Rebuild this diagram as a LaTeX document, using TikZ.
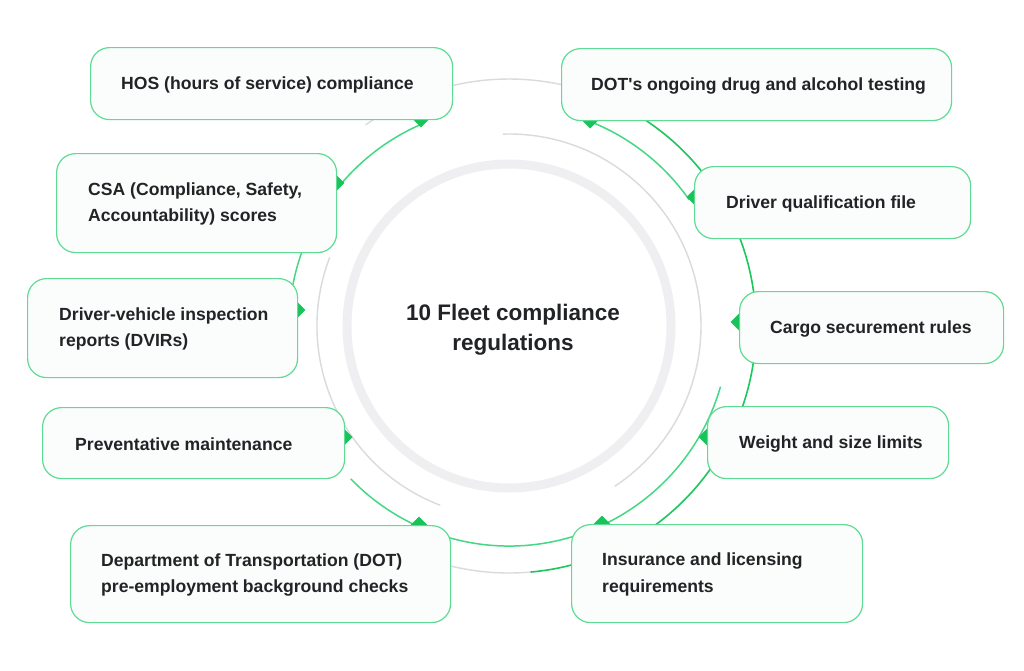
\documentclass[tikz,border=0pt]{standalone}
\usepackage{fontspec}
\setmainfont{Liberation Sans}
\definecolor{gline}{HTML}{45D884}
\definecolor{gstrong}{HTML}{1EC75E}
\definecolor{gdiam}{HTML}{17C45A}
\definecolor{gbox}{HTML}{5EDC94}
\definecolor{boxfill}{HTML}{FBFDFC}
\definecolor{thingray}{HTML}{DADADF}
\definecolor{ringgray}{HTML}{EFEFF2}
\definecolor{txt}{HTML}{222326}
\newcommand\ringarc[4]{\draw[#1] ([shift={(-#2:#4)}]c) arc[start angle=-#2, end angle=-#3, radius=#4];}
\begin{document}
\begin{tikzpicture}[x=1pt,y=-1pt,
  box/.style={draw=gbox, line width=1.2pt, fill=boxfill, rounded corners=19pt, anchor=north west, inner sep=0pt},
  lbl/.style={anchor=west, font=\bfseries\fontsize{17.6}{26.5}\selectfont, text=txt, align=left, inner sep=0pt},
  diam/.style={fill=gdiam, rotate=45, minimum size=12pt, inner sep=0pt},
  midg/.style={draw=gline, line width=1.5pt},
  outg/.style={draw=gstrong, line width=1.6pt},
  thin/.style={draw=thingray, line width=1.4pt}]
\useasboundingbox (0,0) rectangle (1024,670);
\fill[white] (0,0) rectangle (1024,670);
\coordinate (c) at (509,326);
% central ring
\draw[ringgray, line width=9pt] (c) circle[radius=162];
\node[font=\bfseries\fontsize{22.5}{30}\selectfont, text=txt, align=center] (title) at (513,330) {10 Fleet compliance\\regulations};
% thin gray arcs
\ringarc{thin}{91.8}{-56.6}{192}
\ringarc{thin}{159}{249}{192}
\ringarc{thin}{125.5}{56.7}{247}
\ringarc{thin}{-85}{-115}{247}
% green arcs
\ringarc{outg}{56.7}{-85}{247}
\ringarc{midg}{113.7}{172}{220}
\ringarc{midg}{68}{35}{220}
\ringarc{midg}{-16}{-136}{220}
% diamonds
\node[diam] (d1) at (421,119) {};
\node[diam] (d2) at (590,120) {};
\node[diam] (d3) at (336,183) {};
\node[diam] (d4) at (695,197) {};
\node[diam] (d5) at (297,310) {};
\node[diam] (d6) at (739,322) {};
\node[diam] (d7) at (344,437) {};
\node[diam] (d8) at (707,437) {};
\node[diam] (d9) at (419,525) {};
\node[diam] (d10) at (602,524) {};
% boxes
\node[box, minimum width=362pt, minimum height=72pt] (hos) at (90,47) {};
\node[box, minimum width=390pt, minimum height=72pt] (dot) at (561,48) {};
\node[box, minimum width=280pt, minimum height=99pt] (csa) at (56,153) {};
\node[box, minimum width=276pt, minimum height=72pt] (dqf) at (694,166) {};
\node[box, minimum width=270pt, minimum height=99pt] (dvir) at (27,278) {};
\node[box, minimum width=264pt, minimum height=72pt] (cargo) at (739,291) {};
\node[box, minimum width=302pt, minimum height=71pt] (prev) at (42,407) {};
\node[box, minimum width=241pt, minimum height=72pt] (weight) at (707,406) {};
\node[box, minimum width=380pt, minimum height=97pt] (dept) at (70,525) {};
\node[box, minimum width=291pt, minimum height=98pt] (ins) at (571,524) {};
% labels
\node[lbl] (thos) at ([xshift=31pt,yshift=-1pt]hos.west) {HOS (hours of service) compliance};
\node[lbl] (tdot) at ([xshift=30pt,yshift=-1pt]dot.west) {DOT\textquotesingle s ongoing drug and alcohol testing};
\node[lbl] (tcsa) at ([xshift=32pt,yshift=-1pt]csa.west) {CSA (Compliance, Safety,\\Accountability) scores};
\node[lbl] (tdqf) at ([xshift=32pt,yshift=-1pt]dqf.west) {Driver qualification file};
\node[lbl] (tdvir) at ([xshift=32pt,yshift=-1pt]dvir.west) {Driver-vehicle inspection\\reports (DVIRs)};
\node[lbl] (tcargo) at ([xshift=31pt,yshift=-1pt]cargo.west) {Cargo securement rules};
\node[lbl] (tprev) at ([xshift=33pt,yshift=-1pt]prev.west) {Preventative maintenance};
\node[lbl] (tweight) at ([xshift=32pt,yshift=-1pt]weight.west) {Weight and size limits};
\node[lbl] (tdept) at ([xshift=31pt,yshift=-1pt]dept.west) {Department of Transportation (DOT)\\pre-employment background checks};
\node[lbl] (tins) at ([xshift=31pt,yshift=-1pt]ins.west) {Insurance and licensing\\requirements};
\end{tikzpicture}
\end{document}
